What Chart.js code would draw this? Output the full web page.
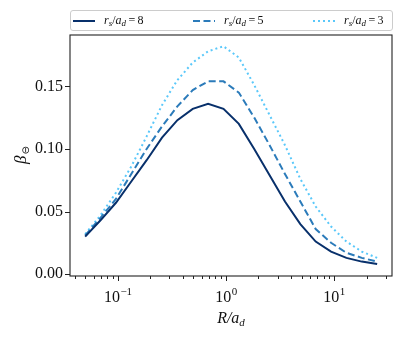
<!DOCTYPE html>
<html>
<head>
<meta charset="utf-8">
<script src="https://cdn.jsdelivr.net/npm/chart.js@4.4.1/dist/chart.umd.min.js"></script>
<style>
  body { margin: 0; background: #fff; }
  #wrap { position: relative; width: 408px; height: 338px; }
  #legend {
    position: absolute; left: 70px; top: 10px; width: 321px; height: 19px;
    border: 1px solid #ccc; border-radius: 3px; box-sizing: content-box;
    font-family: "Liberation Serif", serif; font-size: 12px; color: #111;
  }
  .item { position: absolute; top: 0; height: 19px; display: flex; align-items: center; }
  .item svg { margin-right: 9px; }
  sub { font-size: 9px; vertical-align: -2px; }
</style>
</head>
<body>
<div id="wrap">
  <canvas id="chart" width="408" height="338"></canvas>
  <div id="legend"></div>
</div>
<script>
// R / a_d sample points (log spaced)
const radius = [0.05, 0.0693, 0.0962, 0.1334, 0.185, 0.2566, 0.3559, 0.4936, 0.6846, 0.9495,
  1.317, 1.827, 2.534, 3.514, 4.874, 6.76, 9.374, 13.0, 18.03, 25.0];

const beta8 = [0.030, 0.043, 0.057, 0.074, 0.091, 0.109, 0.123, 0.132, 0.136, 0.132,
  0.120, 0.100, 0.079, 0.058, 0.040, 0.026, 0.018, 0.013, 0.010, 0.008];
const beta5 = [0.031, 0.045, 0.060, 0.080, 0.100, 0.118, 0.134, 0.147, 0.154, 0.154,
  0.145, 0.125, 0.103, 0.080, 0.058, 0.036, 0.025, 0.017, 0.013, 0.010];
const beta3 = [0.032, 0.047, 0.065, 0.086, 0.110, 0.135, 0.155, 0.169, 0.178, 0.182,
  0.173, 0.151, 0.127, 0.103, 0.076, 0.054, 0.038, 0.026, 0.018, 0.013];

const ratioLabels = ['8', '5', '3'];
const yTicks = [0, 0.05, 0.10, 0.15];
const xMajorTicks = [0.1, 1, 10];
const xMajorExp = ['-1', '0', '1'];

const colors = ['#08306b', '#2b7bba', '#5ac8fa'];
const dashes = [[], [7, 3.5], [2, 3]];
const serif = '"Liberation Serif", "DejaVu Serif", serif';

function toPoints(values) {
  return values.map((v, i) => ({ x: radius[i], y: v }));
}

const series = [beta8, beta5, beta3];

const datasets = series.map((values, i) => ({
  label: ratioLabels[i],
  data: toPoints(values),
  borderColor: colors[i],
  borderWidth: 2,
  borderDash: dashes[i],
  borderCapStyle: 'butt',
  pointRadius: 0,
  tension: 0,
  fill: false,
}));

// frame, tick marks, power-of-ten labels and axis titles
const frameTicks = {
  id: 'frameTicks',
  afterDraw(chart) {
    const { ctx, chartArea: a, scales } = chart;
    const x = scales.x;
    const y = scales.y;
    ctx.save();
    ctx.strokeStyle = '#222';
    ctx.lineWidth = 1.1;
    ctx.strokeRect(a.left, a.top, a.right - a.left, a.bottom - a.top);
    ctx.lineWidth = 1;
    ctx.beginPath();
    x.ticks.forEach((t) => {
      const px = Math.round(x.getPixelForValue(t.value)) + 0.5;
      const len = t.major ? 5 : 3;
      ctx.moveTo(px, a.bottom);
      ctx.lineTo(px, a.bottom + len);
    });
    y.ticks.forEach((t) => {
      const py = Math.round(y.getPixelForValue(t.value)) + 0.5;
      ctx.moveTo(a.left, py);
      ctx.lineTo(a.left - 5, py);
    });
    ctx.stroke();

    ctx.fillStyle = '#111';
    ctx.textBaseline = 'alphabetic';
    ctx.textAlign = 'left';

    // x tick labels 10^n
    xMajorTicks.forEach((v, i) => {
      const px = x.getPixelForValue(v);
      ctx.font = `16px ${serif}`;
      const wBase = ctx.measureText('10').width;
      ctx.font = `11px ${serif}`;
      const exp = xMajorExp[i].replace('-', '\u2212');
      const wExp = ctx.measureText(exp).width;
      const sx = px - (wBase + wExp) / 2;
      ctx.font = `16px ${serif}`;
      ctx.fillText('10', sx, 302);
      ctx.font = `11px ${serif}`;
      ctx.fillText(exp, sx + wBase + 0.5, 295);
    });

    // x title: R/a_d
    const cx = (a.left + a.right) / 2;
    ctx.font = `italic 16px ${serif}`;
    const main = 'R/a';
    const wMain = ctx.measureText(main).width;
    ctx.font = `italic 11px ${serif}`;
    const wSub = ctx.measureText('d').width;
    const startX = cx - (wMain + wSub) / 2;
    ctx.font = `italic 16px ${serif}`;
    ctx.fillText(main, startX, 323);
    ctx.font = `italic 11px ${serif}`;
    ctx.fillText('d', startX + wMain, 326);

    // y title: beta with circle-minus subscript
    ctx.translate(26, (a.top + a.bottom) / 2);
    ctx.rotate(-Math.PI / 2);
    ctx.font = `italic 17px ${serif}`;
    const wb = ctx.measureText('\u03B2').width;
    ctx.font = `10px "DejaVu Sans", sans-serif`;
    const wc = ctx.measureText('\u2296').width;
    const sx = -(wb + wc) / 2;
    ctx.font = `italic 17px ${serif}`;
    ctx.fillText('\u03B2', sx, 0);
    ctx.font = `10px "DejaVu Sans", sans-serif`;
    ctx.fillText('\u2296', sx + wb + 1, 3);
    ctx.restore();
  },
};

new Chart(document.getElementById('chart'), {
  type: 'line',
  data: { datasets },
  options: {
    responsive: false,
    animation: false,
    layout: { padding: { top: 35, right: 16, left: 0, bottom: 0 } },
    plugins: { legend: { display: false }, tooltip: { enabled: false } },
    scales: {
      x: {
        type: 'logarithmic',
        min: 0.0362,
        max: 34.3,
        afterBuildTicks(scale) {
          const ticks = [];
          [0.01, 0.1, 1, 10].forEach((d) => {
            for (let m = 1; m <= 9; m += 1) {
              const v = +(m * d).toPrecision(6);
              if (v >= scale.min && v <= scale.max) ticks.push({ value: v, major: m === 1 });
            }
          });
          scale.ticks = ticks;
        },
        afterFit(scale) { scale.height = 62; },
        grid: { display: false, drawTicks: false },
        border: { display: false },
        ticks: {
          autoSkip: false,
          maxRotation: 0,
          callback() { return ''; },
        },
      },
      y: {
        min: -0.0015,
        max: 0.191,
        afterBuildTicks(scale) {
          scale.ticks = yTicks.map((v) => ({ value: v }));
        },
        afterFit(scale) { scale.width = 70; },
        grid: { display: false, drawTicks: false },
        border: { display: false },
        ticks: {
          padding: 7,
          color: '#111',
          font: { family: serif, size: 16 },
          callback(value) { return value.toFixed(2); },
        },
      },
    },
  },
  plugins: [frameTicks],
});

// legend with sub-scripted labels
const legend = document.getElementById('legend');
const itemLeft = [2, 122, 242];
ratioLabels.forEach((lab, i) => {
  const el = document.createElement('div');
  el.className = 'item';
  el.style.left = itemLeft[i] + 'px';
  const dash = dashes[i].length ? `stroke-dasharray="${dashes[i].join(' ')}"` : '';
  el.innerHTML = `<svg width="22" height="6"><line x1="0" y1="3" x2="22" y2="3" stroke="${colors[i]}" stroke-width="2" ${dash}/></svg>`
    + `<span><i>r</i><sub><i>s</i></sub>/<i>a</i><sub><i>d</i></sub>\u2009=\u2009${lab}</span>`;
  legend.appendChild(el);
});
</script>
</body>
</html>
